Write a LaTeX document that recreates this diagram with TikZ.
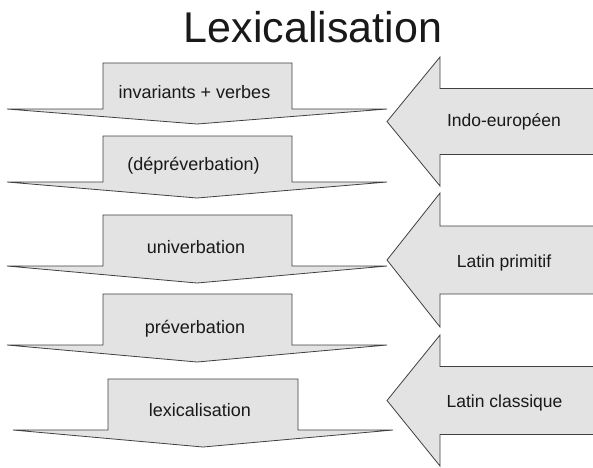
\documentclass[tikz,border=0pt]{standalone}
\usepackage{fontspec}
\setmainfont{Liberation Sans}
\definecolor{arrfill}{gray}{0.89}
\definecolor{arrline}{gray}{0.25}
\tikzset{
  arrshape/.style={fill=arrfill, draw=arrline, line width=0.8pt, line join=miter},
  boxtext/.style={font=\fontsize{18}{20}\selectfont, anchor=base, inner sep=0pt, text=black!90},
  sidetext/.style={font=\fontsize{17.5}{20}\selectfont, anchor=base, inner sep=0pt, text=black!90},
  titletext/.style={font=\fontsize{43}{48}\selectfont, anchor=base, inner sep=0pt, text=black!90}
}
% down arrow: #1 left box x, #2 right box x, #3 top y, #4 shoulder y, #5 tip y, #6 wing left, #7 wing right
\newcommand{\downarr}[7]{%
  \path[arrshape] (#1,#3) -- (#2,#3) -- (#2,#4) -- (#7,#4) -- ({(#6+#7)/2},#5) -- (#6,#4) -- (#1,#4) -- cycle;}
% left arrow: #1 tip y, #2 head half, #3 shaft half
\newcommand{\leftarr}[3]{%
  \path[arrshape] (387,#1) -- (440,#1-#2) -- (440,#1-#3) -- (600,#1-#3) -- (600,#1+#3) -- (440,#1+#3) -- (440,#1+#2) -- cycle;}
\begin{document}
\begin{tikzpicture}[x=1pt,y=-1pt]
\useasboundingbox (0,0) rectangle (593,467);
\node[titletext] (title) at (313,42) {Lexicalisation};

\downarr{103}{292}{63}{109}{124}{7}{387}
\downarr{103}{292}{136}{182}{198}{7}{387}
\downarr{103}{292}{215}{266}{283}{7}{387}
\downarr{103}{292}{294}{345}{362}{7}{387}
\downarr{108}{298}{379}{430}{447}{13}{393}

\node[boxtext] (t1) at (194.5,98) {invariants + verbes};
\node[boxtext] (t2) at (193.5,170) {(dépréverbation)};
\node[boxtext] (t3) at (196,253) {univerbation};
\node[boxtext] (t4) at (195,333) {préverbation};
\node[boxtext] (t5) at (200,416) {lexicalisation};

\leftarr{121.5}{64.5}{33}
\leftarr{260}{67}{34}
\leftarr{400.5}{65.5}{34}

\node[sidetext] (s1) at (504,126) {Indo-européen};
\node[sidetext] (s2) at (504,267) {Latin primitif};
\node[sidetext] (s3) at (504.5,407) {Latin classique};
\end{tikzpicture}
\end{document}
